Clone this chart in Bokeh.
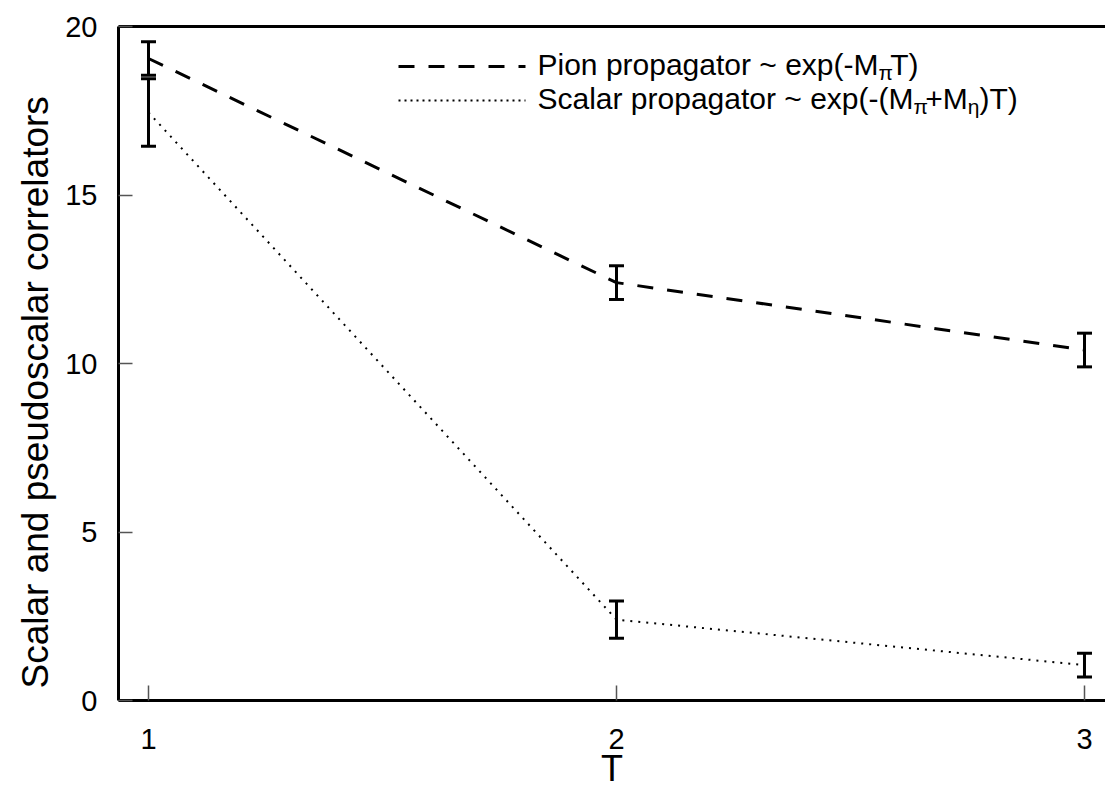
from bokeh.plotting import figure
from bokeh.models import (Range1d, FixedTicker, LinearAxis, Whisker, TeeHead,
                          ColumnDataSource, Label, Arrow, Title)
from bokeh.embed import file_html
from bokeh.resources import INLINE

# ---- data ----
T = [1, 2, 3]
pion = [19.05, 12.4, 10.4]
pion_err = [0.5, 0.5, 0.5]
scalar = [17.45, 2.4, 1.05]
scalar_err = [1.0, 0.55, 0.35]
x_ticks = [1, 2, 3]
y_ticks = [0, 5, 10, 15, 20]
x_label = "T"
y_label = "Scalar and pseudoscalar correlators"
legend_pion = ["Pion propagator ~ exp(-M", "\u03c0", "T)"]
legend_scalar = ["Scalar propagator ~ exp(-(M", "\u03c0", "+M", "\u03b7", ")T)"]

FONT = "Liberation Sans"
LEG_SIZE = 30
SUB_SIZE = 21

W = {' ': 278, 'P': 667, 'i': 222, 'o': 556, 'n': 556, 'p': 556, 'r': 333,
     'a': 556, 'g': 556, 't': 278, '~': 584, 'e': 556, 'x': 500, '(': 333,
     ')': 333, '-': 333, 'M': 833, 'T': 611, 'S': 667, 'c': 500, 'l': 222,
     '+': 584, '\u03c0': 560, '\u03b7': 556}


def tw(s, size):
    return sum(W.get(c, 556) for c in s) * size / 1000.0


p = figure(width=1105, height=792,
           x_range=Range1d(0.9359, 3.0449), y_range=Range1d(0, 20),
           output_backend="svg", toolbar_location=None,
           min_border_left=118, min_border_right=0,
           min_border_top=26, min_border_bottom=92)
p.outline_line_color = None
p.xgrid.grid_line_color = None
p.ygrid.grid_line_color = None
p.background_fill_color = "white"
p.border_fill_color = "white"

p.xaxis.ticker = FixedTicker(ticks=x_ticks)
p.yaxis.ticker = FixedTicker(ticks=y_ticks)
for ax in (p.xaxis[0], p.yaxis[0]):
    ax.axis_line_width = 3
    ax.axis_line_color = "black"
    ax.major_tick_out = 0
    ax.major_tick_line_color = "#555555"
    ax.major_tick_line_width = 1.5
    ax.minor_tick_line_color = None
    ax.major_label_text_font = FONT
    ax.major_label_text_font_size = "29px"
    ax.major_label_text_color = "black"
p.xaxis.major_tick_in = 15
p.yaxis.major_tick_in = 14
p.xaxis.major_label_standoff = 28
p.yaxis.major_label_standoff = 21
p.xaxis.axis_label = x_label
p.xaxis.axis_label_text_font = FONT
p.xaxis.axis_label_text_font_size = "36px"
p.xaxis.axis_label_text_font_style = "normal"
p.xaxis.axis_label_text_color = "black"
p.xaxis.axis_label_standoff = -4

top = LinearAxis(ticker=FixedTicker(ticks=[]), axis_line_width=3,
                 axis_line_color="black", major_tick_line_color=None,
                 minor_tick_line_color=None, major_label_text_font_size="0px")
p.add_layout(top, "above")

p.add_layout(Title(text=y_label, align="left", offset=12, text_font=FONT,
                   text_font_size="37px", text_font_style="normal",
                   text_color="black", standoff=13), "left")

# lines
p.line(T, pion, line_color="black", line_width=3, line_dash="16 14")
p.line(T, scalar, line_color="black", line_width=2, line_dash="2 6")

# error bars
for vals, errs in ((pion, pion_err), (scalar, scalar_err)):
    src = ColumnDataSource(dict(x=T,
                                upper=[v + e for v, e in zip(vals, errs)],
                                lower=[v - e for v, e in zip(vals, errs)]))
    w = Whisker(base="x", upper="upper", lower="lower", source=src,
                line_color="black", line_width=3,
                upper_head=TeeHead(size=15, line_width=3, line_color="black"),
                lower_head=TeeHead(size=15, line_width=3, line_color="black"))
    p.add_layout(w)

# legend (screen units, relative to the frame)
LX0, LX1, TX = 280, 407, 419
rows = [(634, "16 14", 3, legend_pion),
        (600, "2 4", 2, legend_scalar)]
for ly, dash, lw, pieces in rows:
    p.add_layout(Arrow(end=None, x_start=LX0, y_start=ly, x_end=LX1, y_end=ly,
                       start_units="screen", end_units="screen",
                       line_color="black", line_width=lw, line_dash=dash))
    x = TX
    for i, piece in enumerate(pieces):
        sub = (i % 2 == 1)
        size = SUB_SIZE if sub else LEG_SIZE
        p.add_layout(Label(x=x, y=ly + 2 - (8 if sub else 0),
                           x_units="screen", y_units="screen",
                           text=piece, text_font=FONT,
                           text_font_size=f"{size}px",
                           text_align="left", text_baseline="middle",
                           text_color="black"))
        x += tw(piece, size)

open("out.html", "w").write(file_html(p, INLINE))
